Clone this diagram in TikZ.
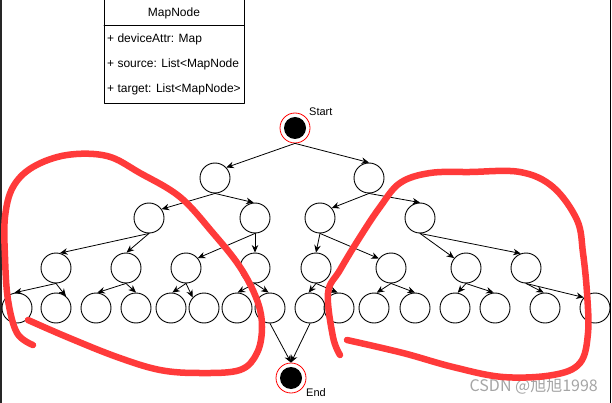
\documentclass[tikz,border=0pt]{standalone}
\usepackage{fontspec}
\setmainfont{Liberation Sans}
\newfontfamily\cjk{Noto Sans CJK SC}
\usetikzlibrary{arrows.meta}
\definecolor{pen}{RGB}{255,58,58}
\definecolor{wm}{RGB}{165,165,165}

\begin{document}
\begin{tikzpicture}[x=1pt,y=-1pt,line cap=round,line join=round,
  vert/.style={circle,draw,line width=0.9pt,minimum size=30pt,inner sep=0pt},
  term/.style={circle,draw=red,line width=0.8pt,fill=white,minimum size=30pt,inner sep=0pt},
  edge/.style={line width=0.8pt,-{Stealth[length=7.5pt,width=6.5pt]}},
  redpen/.style={draw=pen,line width=6.5pt},
  lab/.style={font=\fontsize{11}{13}\selectfont,inner sep=0pt},
  field/.style={lab,font=\fontsize{12}{14}\selectfont}]
  \clip (0,0) rectangle (612,403);
  % 边框
  \draw[line width=1.2pt,black!85] (1,0) -- (1,403);
  \draw[line width=0.9pt] (610.5,0) -- (610.5,403);
  % 类图
  \draw[line width=0.9pt] (104,-2) rectangle (244,103);
  \draw[line width=0.9pt] (104,25) -- (244,25);
  \node[field] (cls) at (174,13) {MapNode};
  \node[field,anchor=west] (f1) at (107,39) {+ deviceAttr: Map};
  \node[field,anchor=west] (f2) at (107,64) {+ source: List<MapNode};
  \node[field,anchor=west] (f3) at (107,89) {+ target: List<MapNode>};
  % 起点 终点
  \node[term] (s) at (295,128) {};
  \fill (s) circle[radius=11pt];
  \node[lab,anchor=west] (slab) at (309,112) {Start};
  \node[term] (e) at (291,378) {};
  \fill (e) circle[radius=11pt];
  \node[lab,anchor=west] (elab) at (306,393) {End};
  % 节点
  \foreach \n/\x in {a1/215,a2/369}
    \node[vert] (\n) at (\x,178) {};
  \foreach \n/\x in {b1/149,b2/255,b3/320,b4/420}
    \node[vert] (\n) at (\x,218) {};
  \foreach \x [count=\i] in {56,126,186,255,316,391,466,526}
    \node[vert] (c\i) at (\x,268) {};
  \foreach \x [count=\i] in {17,56,96,136,171,204,237,270,310,339,374,415,455,495,545,595}
    \node[vert] (d\i) at (\x,308) {};
  % 连线
  \foreach \p/\c/\a in {s/a1/43,s/a2/90,
    a1/b1/35,a1/b2/95,a2/b3/40,a2/b4/90,
    b1/c1/75,b1/c2/88,b2/c3/40,b2/c4/90,b3/c5/90,b3/c6/142,b4/c7/140,b4/c8/110,
    c1/d1/100,c1/d2/50,c2/d3/85,c2/d4/90,c3/d5/85,c3/d6/137,c4/d7/88,c4/d8/95,
    c5/d9/95,c5/d10/95,c6/d11/80,c6/d12/90,c7/d13/80,c7/d14/95,c8/d15/95,c8/d16/137,
    d8/e/90,d9/e/90}
    \draw[edge] (\p.south) -- (\c.\a);
  % 水印
  \node[text=wm,font=\cjk\fontsize{16}{18}\selectfont,anchor=east,inner sep=0pt] (wmark) at (598,386) {CSDN @旭旭1998};
  % 红笔圈
  \draw[redpen] plot[smooth,tension=0.6] coordinates {(33,345) (17,333) (8,300) (5,257) (5,217) (13,187) (33,167) (67,155) (107,156) (140,173) (180,197) (213,233) (240,267) (257,300) (262,327) (257,353) (240,370) (200,373) (160,370) (117,357) (67,337) (28,320)};
  \draw[redpen] plot[smooth,tension=0.6] coordinates {(340,355) (333,337) (328,293) (340,270) (360,237) (380,207) (400,183) (430,173) (470,172) (520,172) (553,187) (577,220) (583,253) (587,293) (588,333) (580,363) (553,375) (503,377) (453,367) (403,353) (347,340)};
\end{tikzpicture}
\end{document}
